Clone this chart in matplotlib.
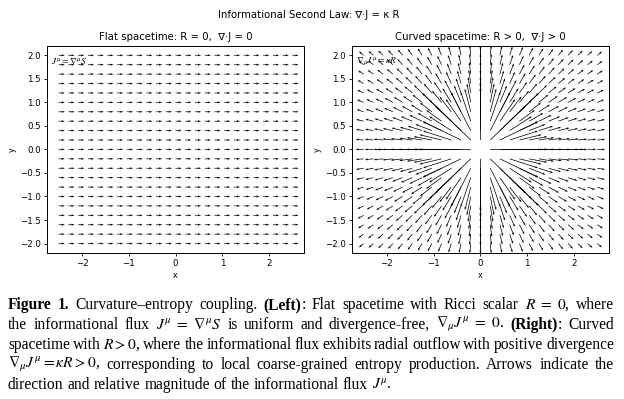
import numpy as np
import matplotlib
matplotlib.use("Agg")
import matplotlib.pyplot as plt

# grid for the flux field
x_vals = np.linspace(-2.5, 2.5, 25)
y_vals = np.linspace(-2.0, 2.0, 21)

titles = ["Flat spacetime: R = 0,  \u2207\u00b7J = 0",
          "Curved spacetime: R > 0,  \u2207\u00b7J > 0"]
labels = [r"$J^\mu = \nabla^\mu S$", r"$\nabla_\mu J^\mu = \kappa R$"]
suptitle = "Informational Second Law: \u2207\u00b7J = \u03ba R"

caption = [
    "**Figure 1.** Curvature\u2013entropy coupling. **(Left)**: Flat spacetime with Ricci scalar $R\\ =\\ 0$, where",
    "the informational flux $J^\\mu\\ =\\ \\nabla^\\mu S$ is uniform and divergence-free, $\\nabla_\\mu J^\\mu\\ =\\ 0$. **(Right)**: Curved",
    "spacetime with $R > 0$, where the informational flux exhibits radial outflow with positive divergence",
    "$\\nabla_\\mu J^\\mu = \\kappa R > 0$, corresponding to local coarse-grained entropy production. Arrows indicate the",
    "direction and relative magnitude of the informational flux $J^\\mu$.",
]

X, Y = np.meshgrid(x_vals, y_vals)
U_flat = np.ones_like(X)
V_flat = np.zeros_like(Y)
R2 = X**2 + Y**2
with np.errstate(divide="ignore", invalid="ignore"):
    U_curv = np.where(R2 > 0, X / R2, np.nan)
    V_curv = np.where(R2 > 0, Y / R2, np.nan)

plt.rcParams["mathtext.fontset"] = "stix"
fig = plt.figure(figsize=(6.24, 3.99), dpi=100)
ax1 = fig.add_axes([0.0753, 0.366, 0.412, 0.519])
ax2 = fig.add_axes([0.564, 0.366, 0.412, 0.519])

ax1.quiver(X, Y, U_flat, V_flat)
ax2.quiver(X, Y, U_curv, V_curv, angles="xy", scale_units="xy", scale=2.4,
           width=0.0028, headwidth=3, headlength=4, headaxislength=3.5)

for ax, t, lab in [(ax1, titles[0], labels[0]), (ax2, titles[1], labels[1])]:
    ax.set_xlim(-2.75, 2.75)
    ax.set_ylim(-2.2, 2.2)
    ax.set_title(t, fontsize=7.3, pad=4)
    ax.set_xlabel("x", fontsize=5.8, labelpad=2)
    ax.set_ylabel("y", fontsize=5.8, labelpad=2)
    ax.tick_params(labelsize=6.2, length=2.5, width=0.6, pad=2)
    for s in ax.spines.values():
        s.set_linewidth(0.7)
    ax.text(0.015, 0.925, lab, transform=ax.transAxes, fontsize=6.8, va="center")

fig.text(0.495, 0.962, suptitle, ha="center", va="center", fontsize=7.3)

# justified caption, drawn word by word
fig.canvas.draw()
renderer = fig.canvas.get_renderer()
left_px, right_px = 8, 614
top_px, step_px = 305, 20
H = fig.bbox.height
W = fig.bbox.width
fs = 11.2


def split_words(line):
    words, cur, inmath = [], "", False
    for ch in line:
        if ch == "$":
            inmath = not inmath
        if ch == " " and not inmath:
            if cur:
                words.append(cur)
            cur = ""
        else:
            cur += ch
    if cur:
        words.append(cur)
    return words


bold_state = False


def make_word(word, y):
    global bold_state
    arts = []
    parts = word.split("**")
    for k, txt in enumerate(parts):
        if k > 0:
            bold_state = not bold_state
        if not txt:
            continue
        a = fig.text(0, 1 - y / H, txt, fontsize=fs, family="Liberation Serif",
                     fontweight="bold" if bold_state else "normal",
                     va="center", ha="left")
        arts.append((a, a.get_window_extent(renderer).width))
    return arts


for i, line in enumerate(caption):
    y = top_px + i * step_px
    words = split_words(line)
    built = [make_word(w, y) for w in words]
    widths = [sum(w for _, w in b) for b in built]
    last = i == len(caption) - 1
    gap = fs * 100 / 72 * 0.25 if last else (right_px - left_px - sum(widths)) / (len(words) - 1)
    x = left_px
    for b, wsum in zip(built, widths):
        xx = x
        for a, w in b:
            a.set_x(xx / W)
            xx += w
        x += wsum + gap

fig.savefig("out.png", dpi=100)
